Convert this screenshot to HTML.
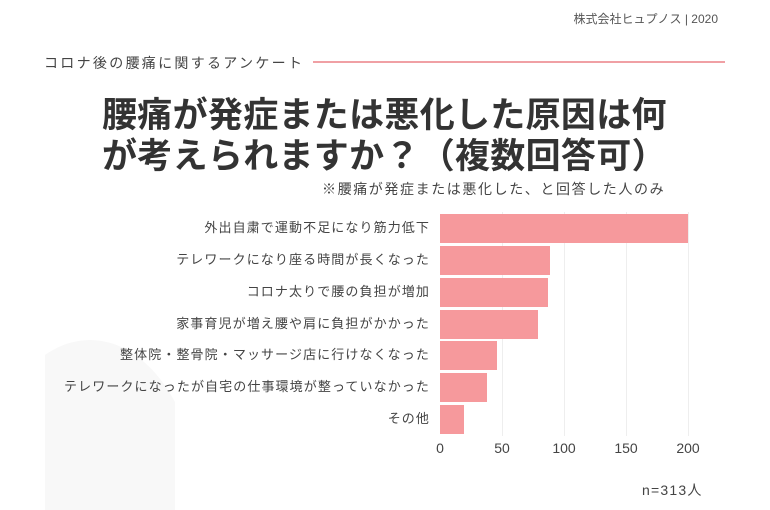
<!DOCTYPE html>
<html style="width:770px;height:510px;overflow:hidden"><head><meta charset="utf-8"><style>
body{margin:0;width:770px;height:510px;background:#fff;overflow:hidden;position:relative;font-family:"Liberation Sans","Noto Sans CJK JP",sans-serif;color:#333}
.a{position:absolute;white-space:nowrap}
.lab{position:absolute;right:340px;font-size:13px;letter-spacing:1.1px;color:#444;line-height:20px}
.bar{position:absolute;left:440px;height:29px;background:#f6999c}
.g{position:absolute;top:212px;height:224px;width:1px;background:#eee}
.t{position:absolute;top:440px;font-size:14px;color:#444;width:40px;text-align:center}
</style></head><body>
<div class="a" style="left:45px;top:330px;width:130px;height:180px;overflow:hidden"><div style="position:absolute;left:-65px;top:10px;width:220px;height:340px;border-radius:110px/170px;background:#f8f8f8"></div></div>
<div class="a" style="right:52px;top:10px;font-size:12px;color:#555">株式会社ヒュプノス | 2020</div>
<div class="a" style="left:44px;top:53px;font-size:14px;letter-spacing:2.3px;color:#444">コロナ後の腰痛に関するアンケート</div>
<div class="a" style="left:313px;top:61px;width:412px;height:2px;background:#f0a0a4"></div>
<div class="a" style="left:102px;top:95px;font-size:35px;font-weight:bold;line-height:41px;letter-spacing:0.3px;color:#333">腰痛が発症または悪化した原因は何<br>が考えられますか？（複数回答可）</div>
<div class="a" style="left:322px;top:179px;font-size:14px;letter-spacing:1.6px;color:#444">※腰痛が発症または悪化した、と回答した人のみ</div>
<div class="g" style="left:502px"></div><div class="g" style="left:564px"></div><div class="g" style="left:626px"></div><div class="g" style="left:688px"></div>
<div class="bar" style="top:214px;width:248px"></div>
<div class="bar" style="top:246px;width:110px"></div>
<div class="bar" style="top:278px;width:108px"></div>
<div class="bar" style="top:310px;width:98px"></div>
<div class="bar" style="top:341px;width:57px"></div>
<div class="bar" style="top:373px;width:47px"></div>
<div class="bar" style="top:405px;width:24px"></div>
<div class="lab" style="top:218px">外出自粛で運動不足になり筋力低下</div>
<div class="lab" style="top:250px">テレワークになり座る時間が長くなった</div>
<div class="lab" style="top:282px">コロナ太りで腰の負担が増加</div>
<div class="lab" style="top:314px">家事育児が増え腰や肩に負担がかかった</div>
<div class="lab" style="top:345px">整体院・整骨院・マッサージ店に行けなくなった</div>
<div class="lab" style="top:377px">テレワークになったが自宅の仕事環境が整っていなかった</div>
<div class="lab" style="top:409px">その他</div>
<div class="t" style="left:420px">0</div><div class="t" style="left:482px">50</div><div class="t" style="left:544px">100</div><div class="t" style="left:606px">150</div><div class="t" style="left:668px">200</div>
<div class="a" style="left:642px;top:480px;font-size:14px;letter-spacing:1.2px;color:#444">n=313人</div>
</body></html>
